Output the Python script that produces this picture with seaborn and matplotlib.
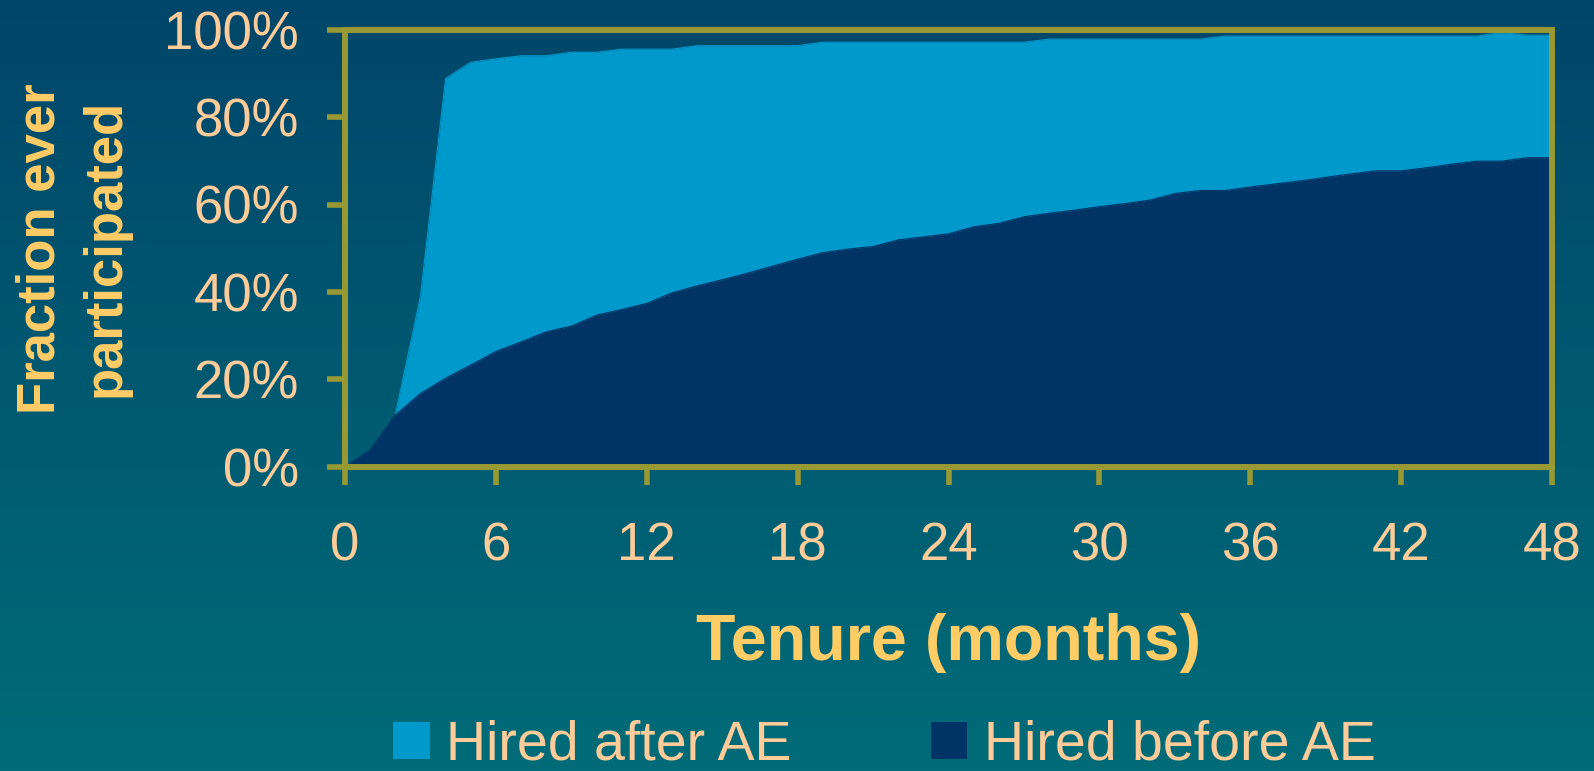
"""
Fraction of employees ever participating, by tenure, split by hire date
relative to automatic enrollment (AE).
"""

import matplotlib.pyplot as plt
import numpy as np
import pandas as pd
import seaborn as sns
from matplotlib.colors import LinearSegmentedColormap
from matplotlib.patches import Patch
from matplotlib.ticker import FuncFormatter

# ─── Data ────────────────────────────────────────────────────────────────────
months = list(range(0, 49))

hired_after_ae = [
    np.nan, np.nan, 11.9, 39.0, 88.8, 92.5, 93.3, 94.0, 94.0, 94.8,
    94.8, 95.5, 95.5, 95.5, 96.3, 96.3, 96.3, 96.3, 96.3, 97.1,
    97.1, 97.1, 97.1, 97.1, 97.1, 97.1, 97.1, 97.1, 97.8, 97.8,
    97.8, 97.8, 97.8, 97.8, 97.8, 98.5, 98.5, 98.5, 98.5, 98.5,
    98.5, 98.5, 98.5, 98.5, 98.5, 98.5, 99.3, 98.7, 98.7,
]

hired_before_ae = [
    0.0, 3.9, 11.9, 16.8, 20.3, 23.3, 26.4, 28.6, 30.9, 32.2,
    34.7, 36.0, 37.4, 39.8, 41.4, 42.8, 44.3, 45.9, 47.5, 49.0,
    49.8, 50.4, 51.9, 52.6, 53.3, 54.9, 55.7, 57.2, 58.0, 58.7,
    59.5, 60.2, 61.0, 62.5, 63.2, 63.2, 64.0, 64.7, 65.4, 66.2,
    67.0, 67.7, 67.7, 68.4, 69.2, 69.9, 69.9, 70.7, 70.7,
]

series_names = ["Hired after AE", "Hired before AE"]
y_ticks = [0, 20, 40, 60, 80, 100]
x_ticks = list(range(0, 49, 6))

# ─── Palette ─────────────────────────────────────────────────────────────────
BG_TOP    = "#00466a"
BG_BOTTOM = "#006c78"
LIGHT     = "#0099cc"
DARK      = "#003366"
AXIS      = "#999933"
TICK_TXT  = "#ffcc99"
LABEL_TXT = "#ffcc66"

sns.set_theme(style="white")
plt.rcParams["font.family"] = ["Liberation Sans", "DejaVu Sans"]

df = pd.DataFrame({
    "month": months,
    series_names[0]: hired_after_ae,
    series_names[1]: hired_before_ae,
})

fig = plt.figure(figsize=(15.94, 7.71), dpi=100)

# ── Gradient background ──────────────────────────────────────────────────────
bg = fig.add_axes([0, 0, 1, 1], zorder=-10)
grad = np.linspace(0, 1, 256).reshape(-1, 1)
bg.imshow(grad, aspect="auto", extent=[0, 1, 0, 1], origin="upper",
          cmap=LinearSegmentedColormap.from_list("bg", [BG_TOP, BG_BOTTOM]))
bg.axis("off")

# ── Main axes ────────────────────────────────────────────────────────────────
ax = fig.add_axes([345 / 1594, 1 - 467 / 771, 1207 / 1594, 437.5 / 771])
ax.set_facecolor("none")

for name, color in zip(series_names, [LIGHT, DARK]):
    sub = df[["month", name]].dropna()
    ax.fill_between(sub["month"], 0, sub[name], color=color, lw=0, zorder=2)
    sns.lineplot(data=sub, x="month", y=name, ax=ax, color=color,
                 lw=0.8, legend=False, zorder=2)

ax.set_xlim(0, 48)
ax.set_ylim(0, 100)
ax.set_xticks(x_ticks)
ax.set_yticks(y_ticks)
ax.yaxis.set_major_formatter(FuncFormatter(lambda v, _: f"{v:.0f}%"))

for sp in ax.spines.values():
    sp.set_visible(True)
    sp.set_color(AXIS)
    sp.set_linewidth(4.3)
    sp.set_zorder(5)

ax.tick_params(axis="both", which="major", direction="out", length=13,
               width=4, color=AXIS, labelcolor=TICK_TXT, labelsize=38,
               bottom=True, left=True)
ax.tick_params(axis="x", pad=26)
ax.tick_params(axis="y", pad=20)

ax.set_xlabel("Tenure (months)", fontsize=46.5, fontweight="bold",
              color=LABEL_TXT)
ax.xaxis.set_label_coords(0.5, (467 - 613) / 437.5)
ax.xaxis.label.set_va("top")

ax.set_ylabel("Fraction ever\nparticipated", fontsize=38, fontweight="bold",
              color=LABEL_TXT, linespacing=1.4, multialignment="center")
ax.yaxis.set_label_coords((131 - 345) / 1207, 0.5)

# ── Legend ───────────────────────────────────────────────────────────────────
handles = [Patch(facecolor=LIGHT, edgecolor="none"),
           Patch(facecolor=DARK, edgecolor="none")]
fig.legend(handles, series_names, loc="center left",
           bbox_to_anchor=(393 / 1594, 1 - 746 / 771), ncol=2, frameon=False,
           fontsize=40, labelcolor=TICK_TXT, handlelength=0.66,
           handleheight=0.66, handletextpad=0.3, columnspacing=2.5,
           borderpad=0, borderaxespad=0)

fig.savefig("out.png", dpi=100, facecolor=BG_TOP)
